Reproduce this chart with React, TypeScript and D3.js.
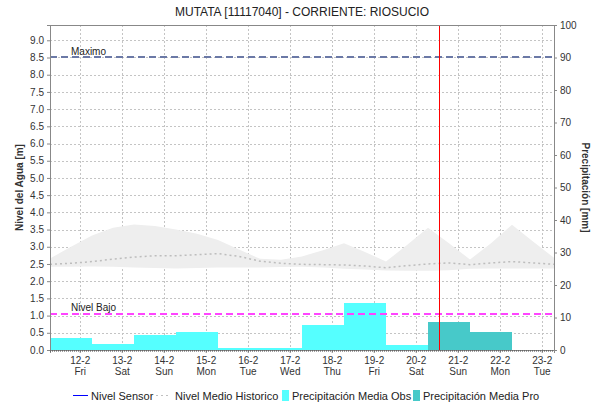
import React, { FC, useEffect, useRef } from "react";
import * as d3 from "d3";

// Precipitation days run 07:00 -> 07:00
const obsDays = ["2021-02-11", "2021-02-12", "2021-02-13", "2021-02-14", "2021-02-15", "2021-02-16", "2021-02-17", "2021-02-18", "2021-02-19"];
const obsPrecip = [3.8, 1.8, 4.6, 5.5, 0.6, 0.5, 7.8, 14.5, 1.5];
const proDays = ["2021-02-20", "2021-02-21"];
const proPrecip = [8.7, 5.5];

// Historic level envelope, every 12h from 11 Feb 07:00
const histUpper = [2.66, 3.0, 3.33, 3.55, 3.65, 3.6, 3.5, 3.38, 3.2, 2.92, 2.65, 2.62, 2.72, 2.9, 3.1, 2.85, 2.57, 3.05, 3.55, 3.1, 2.63, 3.1, 3.64, 3.15, 2.68];
const histLower = [2.42, 2.42, 2.43, 2.42, 2.4, 2.38, 2.37, 2.38, 2.4, 2.4, 2.4, 2.41, 2.42, 2.4, 2.36, 2.34, 2.31, 2.3, 2.3, 2.32, 2.36, 2.37, 2.37, 2.37, 2.37];
const histMean = [2.49, 2.52, 2.57, 2.64, 2.7, 2.74, 2.74, 2.77, 2.8, 2.72, 2.58, 2.52, 2.49, 2.48, 2.47, 2.44, 2.39, 2.45, 2.5, 2.53, 2.48, 2.53, 2.57, 2.53, 2.49];

const levelTicks = d3.range(0, 9.01, 0.5);
const precipTicks = d3.range(0, 101, 10);
const nivelMaximo = 8.5;
const nivelBajo = 1.05;

const parseDay = (s: string) => {
    const [y, m, d] = s.split("-").map(Number);
    return new Date(y, m - 1, d, 7);
};
const addHours = (dt: Date, h: number) => new Date(dt.getTime() + h * 3600 * 1000);

const App: FC = () => {
    const svgRef = useRef<SVGSVGElement>(null);

    useEffect(() => {
        if (!svgRef.current) return;
        document.body.style.margin = "0";
        d3.select(svgRef.current).selectAll("*").remove();

        const W = 616, H = 411;
        const margin = { top: 25, right: 62, bottom: 61, left: 50 };
        const width = W - margin.left - margin.right;
        const height = H - margin.top - margin.bottom;
        const font = "'Liberation Sans', Arial, sans-serif";

        const svg = d3.select(svgRef.current)
            .attr("width", W)
            .attr("height", H)
            .style("font-family", font);

        svg.append("rect").attr("width", W).attr("height", H).attr("fill", "#fff");

        const g = svg.append("g").attr("transform", `translate(${margin.left},${margin.top})`);

        const start = new Date(2021, 1, 11, 7);
        const end = new Date(2021, 1, 23, 7);
        const x = d3.scaleTime().domain([start, end]).range([0, width]);
        const yLevel = d3.scaleLinear().domain([0, nivelMaximo / 0.9]).range([height, 0]);
        const yPrecip = d3.scaleLinear().domain([0, 100]).range([height, 0]);

        const dayTicks = d3.range(12, 24).map(d => new Date(2021, 1, d));
        const px = (v: number) => Math.round(v) + 0.5;

        // Grid
        g.append("g")
            .selectAll("line")
            .data(levelTicks.filter(t => t > 0))
            .enter()
            .append("line")
            .attr("x1", 0).attr("x2", width)
            .attr("y1", d => px(yLevel(d))).attr("y2", d => px(yLevel(d)))
            .attr("stroke", "#c4c4c4")
            .attr("stroke-dasharray", "2,2");
        g.append("g")
            .selectAll("line")
            .data(dayTicks)
            .enter()
            .append("line")
            .attr("x1", d => px(x(d))).attr("x2", d => px(x(d)))
            .attr("y1", 0).attr("y2", height)
            .attr("stroke", "#c4c4c4")
            .attr("stroke-dasharray", "2,2");

        // Historic envelope
        const histTimes = histUpper.map((_, i) => addHours(start, i * 12));
        const area = d3.area<number>()
            .x((_, i) => x(histTimes[i]))
            .y0((_, i) => yLevel(histLower[i]))
            .y1(d => yLevel(d));
        g.append("path")
            .datum(histUpper)
            .attr("d", area)
            .attr("fill", "#eeeeee");

        // Historic mean
        const meanLine = d3.line<number>()
            .x((_, i) => x(histTimes[i]))
            .y(d => yLevel(d));
        g.append("path")
            .datum(histMean)
            .attr("d", meanLine)
            .attr("fill", "none")
            .attr("stroke", "#bdbdbd")
            .attr("stroke-width", 1.5)
            .attr("stroke-dasharray", "2,3");

        // Precipitation bars
        g.selectAll(".obs")
            .data(obsDays.map((d, i) => ({ t: parseDay(d), v: obsPrecip[i] })))
            .enter()
            .append("rect")
            .attr("x", d => x(d.t))
            .attr("width", d => x(addHours(d.t, 24)) - x(d.t))
            .attr("y", d => yPrecip(d.v))
            .attr("height", d => height - yPrecip(d.v))
            .attr("fill", "#55ffff")
            .attr("shape-rendering", "crispEdges");
        g.selectAll(".pro")
            .data(proDays.map((d, i) => ({ t: parseDay(d), v: proPrecip[i] })))
            .enter()
            .append("rect")
            .attr("x", d => x(d.t))
            .attr("width", d => x(addHours(d.t, 24)) - x(d.t))
            .attr("y", d => yPrecip(d.v))
            .attr("height", d => height - yPrecip(d.v))
            .attr("fill", "#47c9c9")
            .attr("shape-rendering", "crispEdges");

        // Threshold lines
        g.append("line")
            .attr("x1", 0).attr("x2", width)
            .attr("y1", Math.round(yLevel(nivelMaximo))).attr("y2", Math.round(yLevel(nivelMaximo)))
            .attr("stroke", "#6b79a6").attr("stroke-width", 2)
            .attr("stroke-dasharray", "7,4");
        g.append("text")
            .attr("x", 21).attr("y", yLevel(nivelMaximo) - 3)
            .style("font-size", "10px").attr("fill", "#222")
            .text("Maximo");
        g.append("line")
            .attr("x1", 0).attr("x2", width)
            .attr("y1", Math.round(yLevel(nivelBajo))).attr("y2", Math.round(yLevel(nivelBajo)))
            .attr("stroke", "#ff44ff").attr("stroke-width", 2)
            .attr("stroke-dasharray", "7,4");
        g.append("text")
            .attr("x", 21).attr("y", yLevel(nivelBajo) - 3)
            .style("font-size", "10px").attr("fill", "#222")
            .text("Nivel Bajo");

        // Current time marker
        const now = new Date(2021, 1, 20, 13, 30);
        g.append("rect")
            .attr("x", Math.round(x(now))).attr("width", 1)
            .attr("y", 0).attr("height", height)
            .attr("fill", "#ff0000");

        // Frame
        g.append("line").attr("x1", 0).attr("x2", width).attr("y1", 0.5).attr("y2", 0.5).attr("stroke", "#888");

        // Axes
        const leftAxis = g.append("g")
            .call(d3.axisLeft(yLevel).tickValues(levelTicks).tickFormat(d3.format(".1f")).tickSize(3));
        const rightAxis = g.append("g")
            .attr("transform", `translate(${width},0)`)
            .call(d3.axisRight(yPrecip).tickValues(precipTicks).tickSize(3));
        const bottomAxis = g.append("g")
            .attr("transform", `translate(0,${height})`)
            .call(d3.axisBottom(x).tickValues(dayTicks).tickSize(3).tickFormat(() => ""));
        [leftAxis, rightAxis, bottomAxis].forEach(a => {
            a.select(".domain").attr("stroke", "#888");
            a.selectAll(".tick line").attr("stroke", "#888");
            a.selectAll("text").style("font-size", "10px").attr("fill", "#333").style("font-family", font);
        });
        // minor ticks along the bottom
        g.append("line")
            .attr("x1", 0).attr("x2", width)
            .attr("y1", height + 1).attr("y2", height + 1)
            .attr("stroke", "#444").attr("stroke-dasharray", "1,1");

        bottomAxis.selectAll(".tick")
            .append("text")
            .attr("y", 14)
            .attr("text-anchor", "middle")
            .style("font-size", "10px")
            .attr("fill", "#333")
            .text(d => d3.timeFormat("%-d-%-m")(d as Date));
        bottomAxis.selectAll(".tick")
            .append("text")
            .attr("y", 25)
            .attr("text-anchor", "middle")
            .style("font-size", "10px")
            .attr("fill", "#333")
            .text(d => d3.timeFormat("%a")(d as Date));

        // Axis titles
        svg.append("text")
            .attr("transform", `translate(23,${margin.top + height / 2}) rotate(-90)`)
            .attr("text-anchor", "middle")
            .style("font-size", "10px").style("font-weight", "bold").attr("fill", "#333")
            .text("Nivel del Agua [m]");
        svg.append("text")
            .attr("transform", `translate(582,${margin.top + height / 2}) rotate(90)`)
            .attr("text-anchor", "middle")
            .style("font-size", "10px").style("font-weight", "bold").attr("fill", "#333")
            .text("Precipitación [mm]");

        // Title
        svg.append("text")
            .attr("x", margin.left + width / 2).attr("y", 16)
            .attr("text-anchor", "middle")
            .style("font-size", "12px").attr("fill", "#222")
            .text("MUTATA [11117040] - CORRIENTE: RIOSUCIO");

        // Legend
        const ly = 395;
        const legend = svg.append("g").style("font-size", "11px");
        legend.append("rect").attr("x", 73).attr("width", 15).attr("y", ly).attr("height", 1).attr("fill", "#0000ff");
        legend.append("text").attr("x", 91).attr("y", ly + 4.5).attr("fill", "#222").text("Nivel Sensor");
        legend.append("line").attr("x1", 156).attr("x2", 171).attr("y1", ly + 0.5).attr("y2", ly + 0.5)
            .attr("stroke", "#c0c0c0").attr("stroke-dasharray", "2,3");
        legend.append("text").attr("x", 175).attr("y", ly + 4.5).attr("fill", "#222").text("Nivel Medio Historico");
        legend.append("rect").attr("x", 282).attr("y", ly - 5).attr("width", 7).attr("height", 11).attr("fill", "#55ffff");
        legend.append("text").attr("x", 292).attr("y", ly + 4.5).attr("fill", "#222").text("Precipitación Media Obs");
        legend.append("rect").attr("x", 413).attr("y", ly - 5).attr("width", 7).attr("height", 11).attr("fill", "#47c9c9");
        legend.append("text").attr("x", 423).attr("y", ly + 4.5).attr("fill", "#222").text("Precipitación Media Pro");
    }, []);

    return (
        <div style={{ width: 616, height: 411 }}>
            <svg ref={svgRef} width={616} height={411}></svg>
        </div>
    );
};

export default App;
